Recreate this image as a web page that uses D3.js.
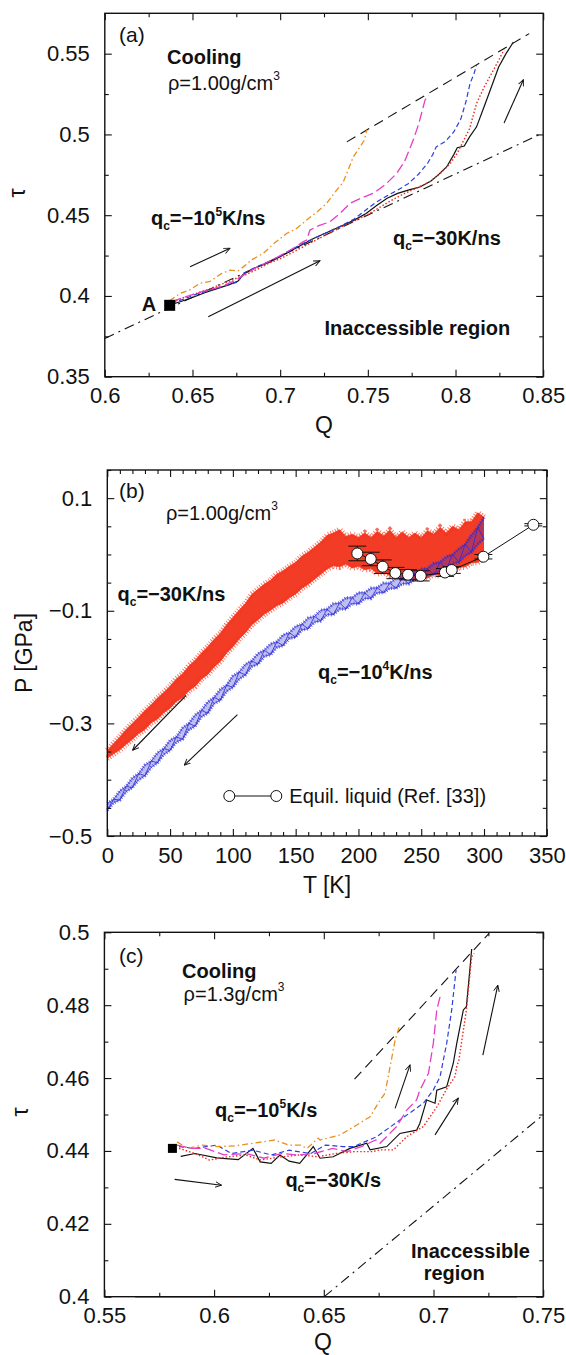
<!DOCTYPE html>
<html>
<head>
<meta charset="utf-8">
<script src="https://cdn.jsdelivr.net/npm/d3@7"></script>
<style>
  body { margin: 0; background: #fff; }
  svg text { font-family: "Liberation Sans", Arial, Helvetica, sans-serif; fill: #111; }
</style>
</head>
<body>
<script>
// ---------- panel (a): tau vs Q, rho = 1.00 g/cm3 ----------
var aXTicks = [0.6, 0.65, 0.7, 0.75, 0.8, 0.85];
var aXMinor = [0.625, 0.675, 0.725, 0.775, 0.825];
var aYTicks = [0.35, 0.4, 0.45, 0.5, 0.55];
var aYMinor = [0.375, 0.425, 0.475, 0.525];

var aBlack = [[0.637,0.3945],[0.643,0.3964],[0.650,0.399],[0.657,0.402],[0.664,0.4045],[0.671,0.407],[0.676,0.4092],
  [0.679,0.4135],[0.686,0.4175],[0.693,0.4205],[0.700,0.4243],[0.707,0.4285],[0.713,0.432],[0.719,0.4356],[0.726,0.439],
  [0.734,0.4428],[0.742,0.4468],[0.749,0.4511],[0.755,0.456],[0.761,0.4605],[0.767,0.4635],[0.773,0.4655],[0.780,0.4676],
  [0.786,0.4712],[0.790,0.4748],[0.795,0.480],[0.799,0.4875],[0.801,0.4918],[0.805,0.4928],[0.808,0.4985],[0.812,0.5047],
  [0.8164,0.5175],[0.8205,0.5295],[0.8246,0.5418],[0.8288,0.5500],[0.833,0.5572]];
var aRed = [[0.637,0.3955],[0.645,0.399],[0.652,0.4015],[0.660,0.4045],[0.667,0.4075],[0.674,0.4105],[0.680,0.413],
  [0.687,0.4165],[0.694,0.4205],[0.701,0.4235],[0.708,0.4275],[0.715,0.4315],[0.722,0.4355],[0.729,0.4395],[0.736,0.4432],
  [0.743,0.4468],[0.750,0.4505],[0.757,0.455],[0.764,0.4595],[0.771,0.4635],[0.778,0.4668],[0.785,0.4705],[0.791,0.4755],
  [0.797,0.482],[0.801,0.4885],[0.805,0.497],[0.808,0.5035],[0.812,0.5192],[0.8164,0.5295],[0.8205,0.5376],[0.8246,0.5459],
  [0.8277,0.5525]];
var aBlue = [[0.638,0.3955],[0.645,0.398],[0.652,0.401],[0.660,0.4035],[0.668,0.406],[0.676,0.4088],[0.679,0.414],
  [0.686,0.4178],[0.693,0.421],[0.700,0.4248],[0.707,0.429],[0.713,0.4325],[0.720,0.436],[0.727,0.4395],[0.735,0.4435],
  [0.742,0.4475],[0.748,0.4525],[0.754,0.4575],[0.761,0.462],[0.767,0.4655],[0.773,0.4695],[0.779,0.4755],[0.784,0.482],
  [0.787,0.4875],[0.789,0.4923],[0.794,0.4955],[0.799,0.5015],[0.803,0.5095],[0.806,0.5205],[0.8083,0.5316],[0.8105,0.5375],
  [0.812,0.5429]];
var aMagenta = [[0.638,0.3965],[0.645,0.399],[0.652,0.4015],[0.660,0.404],[0.668,0.4065],[0.675,0.410],[0.680,0.4135],
  [0.687,0.418],[0.694,0.4215],[0.701,0.4255],[0.708,0.4298],[0.713,0.4335],[0.7151,0.4346],[0.717,0.4408],[0.722,0.4435],
  [0.7284,0.4459],[0.734,0.451],[0.7398,0.4573],[0.746,0.4605],[0.7531,0.4635],[0.760,0.469],[0.7665,0.4759],[0.771,0.4835],
  [0.7759,0.4965],[0.779,0.5065],[0.7826,0.5212],[0.7845,0.5243]];
var aOrange = [[0.637,0.397],[0.6429,0.4016],[0.648,0.4035],[0.6543,0.4078],[0.660,0.409],[0.666,0.4135],[0.6714,0.416],
  [0.676,0.4155],[0.679,0.418],[0.684,0.4225],[0.6904,0.4264],[0.697,0.433],[0.7037,0.4387],[0.709,0.4415],[0.7151,0.447],
  [0.721,0.452],[0.7265,0.4573],[0.7322,0.4655],[0.736,0.4705],[0.7417,0.4861],[0.7455,0.4923],[0.748,0.4965],[0.7494,0.5027]];
var aUpper = [[0.738,0.4954],[0.842,0.5624]];
var aLower = [[0.6,0.3737],[0.85,0.501]];
var aPointA = [0.637, 0.3942];
var aArrows = [[[0.6486,0.418],[0.6714,0.4295]], [[0.659,0.3871],[0.7227,0.4218]], [[0.8277,0.5071],[0.8387,0.5339]]];

// ---------- panel (b): P vs T ----------
var bXTicks = [0, 50, 100, 150, 200, 250, 300, 350];
var bXMinor = [10,20,30,40,60,70,80,90,110,120,130,140,160,170,180,190,210,220,230,240,260,270,280,290,310,320,330,340];
var bYTicks = [0.1, -0.1, -0.3, -0.5];
var bYMinor = [0.15, 0.05, 0, -0.05, -0.15, -0.2, -0.25, -0.35, -0.4, -0.45];

var bT = [0,5,10,15,20,25,30,35,40,45,50,55,60,65,70,75,80,85,90,95,100,105,110,115,120,125,130,135,140,145,
  150,155,160,165,170,175,180,185,190,195,200,205,210,215,220,225,230,235,240,245,250,255,260,265,270,275,280,285,290,295,300];
// q = -30 K/ns runs (red band): lower / upper envelope
var bRedLo = [-0.362,-0.354,-0.347,-0.337,-0.328,-0.318,-0.311,-0.299,-0.292,-0.281,
  -0.273,-0.261,-0.254,-0.242,-0.234,-0.221,-0.213,-0.200,-0.190,-0.175,
  -0.164,-0.150,-0.139,-0.125,-0.116,-0.106,-0.099,-0.091,-0.086,-0.077,
  -0.070,-0.060,-0.053,-0.044,-0.035,-0.026,-0.020,-0.022,-0.017,-0.024,
  -0.021,-0.027,-0.025,-0.034,-0.031,-0.038,-0.035,-0.044,-0.039,-0.045,
  -0.040,-0.042,-0.035,-0.038,-0.031,-0.030,-0.023,-0.022,-0.015,-0.014,-0.007];
var bRedHi = [-0.348,-0.336,-0.324,-0.311,-0.300,-0.289,-0.277,-0.267,-0.255,-0.245,
  -0.234,-0.221,-0.212,-0.198,-0.188,-0.175,-0.164,-0.151,-0.140,-0.125,
  -0.112,-0.099,-0.087,-0.071,-0.062,-0.053,-0.046,-0.035,-0.029,-0.021,
  -0.014,-0.003,0.004,0.013,0.022,0.034,0.038,0.044,0.032,0.036,
  0.030,0.038,0.030,0.041,0.033,0.043,0.030,0.040,0.030,0.038,
  0.030,0.042,0.036,0.048,0.038,0.050,0.044,0.058,0.058,0.074,0.066];
// q = -1e4 K/ns run (blue)
var bBlueLo = [-0.454,-0.441,-0.436,-0.421,-0.414,-0.400,-0.393,-0.378,-0.370,-0.355,
  -0.348,-0.333,-0.328,-0.311,-0.305,-0.288,-0.282,-0.265,-0.259,-0.243,
  -0.236,-0.221,-0.214,-0.199,-0.195,-0.181,-0.178,-0.165,-0.162,-0.149,
  -0.147,-0.134,-0.132,-0.120,-0.118,-0.107,-0.107,-0.097,-0.097,-0.087,
  -0.088,-0.078,-0.078,-0.068,-0.068,-0.060,-0.060,-0.052,-0.052,-0.044,
  -0.044,-0.036,-0.036,-0.028,-0.026,-0.016,-0.014,-0.002,0.004,0.018,0.028];
var bBlueHi = [-0.442,-0.435,-0.420,-0.412,-0.397,-0.389,-0.374,-0.367,-0.352,-0.345,
  -0.330,-0.324,-0.308,-0.300,-0.285,-0.277,-0.262,-0.254,-0.240,-0.232,
  -0.216,-0.209,-0.195,-0.189,-0.176,-0.170,-0.159,-0.155,-0.143,-0.139,
  -0.128,-0.124,-0.113,-0.110,-0.099,-0.097,-0.088,-0.086,-0.077,-0.077,
  -0.068,-0.068,-0.060,-0.059,-0.051,-0.051,-0.042,-0.042,-0.034,-0.034,
  -0.026,-0.025,-0.016,-0.014,-0.004,0.000,0.010,0.018,0.034,0.048,0.066];
// equilibrium liquid (Ref. [33])
var bEqT = [199.1, 209.8, 219.3, 229.4, 239.5, 249.6, 268.9, 274.3, 299.5, 339.3];
var bEqP = [0.0018, -0.008, -0.0217, -0.033, -0.036, -0.038, -0.032, -0.0276, -0.004, 0.0527];
var bEqErr = [0.013, 0.012, 0.012, 0.010, 0.009, 0.009, 0.007, 0.006, 0.004, 0.002];
var bArrows = [[[62.75,-0.2503],[20.15,-0.3477]], [[103.6,-0.2845],[61.3,-0.3743]]];

// ---------- panel (c): tau vs Q, rho = 1.3 g/cm3 ----------
var cXTicks = [0.55, 0.6, 0.65, 0.7, 0.75];
var cXMinor = [0.575, 0.625, 0.675, 0.725];
var cYTicks = [0.4, 0.42, 0.44, 0.46, 0.48, 0.5];
var cYMinor = [0.41, 0.43, 0.45, 0.47, 0.49];

var cOrange = [[0.5831,0.4425],[0.588,0.4407],[0.5946,0.4416],[0.6012,0.4412],[0.6095,0.4414],[0.6177,0.4421],[0.6276,0.443],
  [0.6342,0.4416],[0.6392,0.4416],[0.6424,0.4407],[0.6474,0.4435],[0.6483,0.443],[0.6574,0.4444],[0.665,0.4471],[0.6711,0.4494],
  [0.6757,0.454],[0.6779,0.4558],[0.6802,0.4631],[0.6825,0.4704],[0.6847,0.4746]];
var cMagenta = [[0.5831,0.4416],[0.5897,0.4407],[0.5963,0.4407],[0.6045,0.4389],[0.6144,0.4393],[0.6227,0.438],[0.6309,0.4393],
  [0.6375,0.4389],[0.6457,0.4393],[0.654,0.4407],[0.6605,0.4398],[0.6671,0.4412],[0.6737,0.443],[0.6756,0.4421],[0.6832,0.4467],
  [0.6878,0.4512],[0.6923,0.454],[0.6938,0.4567],[0.6977,0.4613],[0.6999,0.4695],[0.7015,0.4787],[0.703,0.4823]];
var cBlue = [[0.584,0.4412],[0.5913,0.4407],[0.6012,0.4416],[0.6078,0.4393],[0.6177,0.4402],[0.626,0.4389],[0.6342,0.4402],
  [0.6441,0.4393],[0.6507,0.4416],[0.6589,0.4412],[0.6635,0.4412],[0.6671,0.4421],[0.6741,0.4439],[0.6847,0.4485],[0.6954,0.4531],
  [0.6999,0.4567],[0.703,0.4604],[0.706,0.4695],[0.7083,0.4787],[0.7103,0.4897]];
var cRed = [[0.584,0.4407],[0.5913,0.4393],[0.5979,0.4375],[0.6062,0.4384],[0.6144,0.4389],[0.621,0.4375],[0.6309,0.4384],
  [0.6391,0.4389],[0.6474,0.4384],[0.6556,0.4393],[0.6638,0.4398],[0.6721,0.4398],[0.6756,0.4403],[0.6817,0.4403],[0.6878,0.4439],
  [0.6954,0.4467],[0.7015,0.4521],[0.706,0.457],[0.7098,0.4604],[0.7106,0.4631],[0.7116,0.465],[0.715,0.4787],[0.7174,0.4933],
  [0.7185,0.4942]];
var cBlack = [[0.5848,0.4385],[0.5913,0.4393],[0.6012,0.4381],[0.611,0.4376],[0.6177,0.4407],[0.621,0.437],[0.626,0.4366],
  [0.63,0.4389],[0.6342,0.4372],[0.639,0.4366],[0.6422,0.4389],[0.6452,0.4412],[0.6483,0.438],[0.6543,0.4384],[0.6619,0.4407],
  [0.6696,0.4421],[0.6711,0.4403],[0.6787,0.4412],[0.6847,0.4448],[0.6923,0.4457],[0.6938,0.4476],[0.6969,0.454],[0.7007,0.4531],
  [0.7015,0.4567],[0.706,0.4576],[0.709,0.464],[0.7106,0.4695],[0.7136,0.4787],[0.715,0.4796],[0.7167,0.4906],[0.7174,0.4954]];
var cUpper = [[0.664,0.4597],[0.7253,0.4997]];
var cLower = [[0.6502,0.4],[0.75,0.4499]];
var cBase = [[0.564,0.4],[0.738,0.4]];
var cPoint = [0.581, 0.4407];
var cArrows = [[[0.582,0.4322],[0.6034,0.4306]], [[0.6825,0.4517],[0.6893,0.4636]],
  [[0.7007,0.4444],[0.7113,0.4545]], [[0.7225,0.4663],[0.7293,0.4855]]];

var width = 566, height = 1355;
var FONT = '"Liberation Sans", Arial, Helvetica, sans-serif';

var svg = d3.select("body").append("svg")
  .attr("width", width)
  .attr("height", height);

svg.append("defs").append("marker")
  .attr("id", "arrow")
  .attr("viewBox", "0 0 10 10")
  .attr("refX", 9).attr("refY", 5)
  .attr("markerWidth", 7).attr("markerHeight", 7)
  .attr("markerUnits", "userSpaceOnUse")
  .attr("orient", "auto")
  .append("path")
  .attr("d", "M0,1 L9,5 L0,9")
  .attr("fill", "none").attr("stroke", "#111").attr("stroke-width", 1.3);

// frame + mirrored ticks, gnuplot style (ticks point inward)
function makePanel(box, xDom, yDom, xt, xm, yt, ym, fmtY) {
  var x = d3.scaleLinear().domain(xDom).range([box.left, box.right]);
  var y = d3.scaleLinear().domain(yDom).range([box.bottom, box.top]);
  var g = svg.append("g");
  var plot = g.append("g");

  function ax(axis, tx, ty, vals, size, fmt, pad) {
    var a = g.append("g").attr("transform", "translate(" + tx + "," + ty + ")")
      .call(axis.tickValues(vals).tickSize(-size).tickSizeOuter(0).tickPadding(pad || 3).tickFormat(fmt || ""));
    a.select(".domain").remove();
    a.selectAll("line").attr("stroke", "#111").attr("stroke-width", 1.1);
    a.attr("font-family", FONT).attr("font-size", 22);
    a.selectAll("text").attr("fill", "#111");
    return a;
  }
  ax(d3.axisBottom(x), 0, box.bottom, xt, 7, function(d) { return String(d); }, 11);
  ax(d3.axisBottom(x), 0, box.bottom, xm, 4);
  ax(d3.axisTop(x), 0, box.top, xt, 7);
  ax(d3.axisTop(x), 0, box.top, xm, 4);
  ax(d3.axisLeft(y), box.left, 0, yt, 7, fmtY || function(d) { return String(d); }, 15);
  ax(d3.axisLeft(y), box.left, 0, ym, 4);
  ax(d3.axisRight(y), box.right, 0, yt, 7);
  ax(d3.axisRight(y), box.right, 0, ym, 4);

  g.append("rect")
    .attr("x", box.left).attr("y", box.top)
    .attr("width", box.right - box.left).attr("height", box.bottom - box.top)
    .attr("fill", "none").attr("stroke", "#111").attr("stroke-width", 1.4);

  return {g: g, plot: plot, x: x, y: y};
}

function curve(p, data, color, dash, w) {
  var line = d3.line().x(function(d) { return p.x(d[0]); }).y(function(d) { return p.y(d[1]); });
  p.plot.append("path")
    .attr("d", line(data))
    .attr("fill", "none")
    .attr("stroke", color)
    .attr("stroke-width", w || 1.2)
    .attr("stroke-dasharray", dash || null);
}

function arrows(p, list) {
  list.forEach(function(a) {
    p.plot.append("line")
      .attr("x1", p.x(a[0][0])).attr("y1", p.y(a[0][1]))
      .attr("x2", p.x(a[1][0])).attr("y2", p.y(a[1][1]))
      .attr("stroke", "#111").attr("stroke-width", 1.1)
      .attr("marker-end", "url(#arrow)");
  });
}

function label(p, xv, yv, txt, bold, size) {
  return p.g.append("text")
    .attr("x", p.x(xv)).attr("y", p.y(yv))
    .attr("font-size", size || 20)
    .attr("font-weight", bold ? "bold" : "normal")
    .text(txt);
}

function rhoLabel(p, xv, yv, txt) {
  var t = label(p, xv, yv, txt, false, 20);
  t.append("tspan").attr("font-size", 12).attr("dy", -10).text("3");
}

function rateLabel(p, xv, yv, mant, sup, unit) {
  var t = label(p, xv, yv, "q", true, 20);
  t.append("tspan").attr("font-size", 12).attr("dy", 5).text("c");
  t.append("tspan").attr("dy", -5).text("=\u2212" + mant);
  if (sup) {
    t.append("tspan").attr("font-size", 12).attr("dy", -9).text(sup);
    t.append("tspan").attr("dy", 9).text(unit);
  } else {
    t.append("tspan").text(unit);
  }
}

function axisTitle(x, y, txt, rot) {
  svg.append("text")
    .attr("transform", "translate(" + x + "," + y + ")" + (rot ? " rotate(-90)" : ""))
    .attr("text-anchor", "middle")
    .attr("dy", rot ? "0.35em" : 0)
    .attr("font-size", 23)
    .text(txt);
}

var C_ORANGE = "#e8901e", C_MAGENTA = "#e63cc8", C_BLUE = "#2b3ee0", C_RED = "#ea2a1c";
var DASH_ORANGE = "6,3,1.5,3", DASH_MAGENTA = "10,4", DASH_BLUE = "5,3", DASH_RED = "1.5,2";

// ================= (a) =================
var pa = makePanel({left: 104.8, right: 543.2, top: 13.3, bottom: 376.7},
  [0.6, 0.85], [0.35, 0.575], aXTicks, aXMinor, aYTicks, aYMinor);

curve(pa, aLower, "#111", "10,5,2,5", 1.1);
curve(pa, aUpper, "#111", "10,6", 1.1);
curve(pa, aBlack, "#111", null, 1.2);
curve(pa, aRed, C_RED, DASH_RED, 1.4);
curve(pa, aBlue, C_BLUE, DASH_BLUE, 1.2);
curve(pa, aMagenta, C_MAGENTA, DASH_MAGENTA, 1.3);
curve(pa, aOrange, C_ORANGE, DASH_ORANGE, 1.3);
arrows(pa, aArrows);

pa.plot.append("rect")
  .attr("x", pa.x(aPointA[0]) - 5.5).attr("y", pa.y(aPointA[1]) - 5.5)
  .attr("width", 11).attr("height", 11).attr("fill", "#000");

label(pa, 0.6081, 0.557, "(a)", false, 21);
label(pa, 0.6355, 0.5436, "Cooling", true, 20);
rhoLabel(pa, 0.636, 0.5275, "\u03c1=1.00g/cm");
rateLabel(pa, 0.6263, 0.4439, "10", "5", "K/ns");
rateLabel(pa, 0.7643, 0.4315, "30", null, "K/ns");
label(pa, 0.7253, 0.3758, "Inaccessible region", true, 20);
label(pa, 0.621, 0.3907, "A", true, 20);

axisTitle(324, 433, "Q");
axisTitle(17, 193, "\u03c4", true);

// ================= (b) =================
var pb = makePanel({left: 107.3, right: 546.8, top: 470, bottom: 836},
  [0, 350], [-0.5, 0.15], bXTicks, bXMinor, bYTicks, bYMinor,
  function(d) { return String(d).replace("-", "\u2212"); });

var redRows = bT.map(function(t, i) { return {t: t, lo: bRedLo[i], hi: bRedHi[i]}; });
var blueRows = bT.map(function(t, i) { return {t: t, lo: bBlueLo[i], hi: bBlueHi[i]}; });

// noisy band of many overlapping runs: filled envelope, bristly edges, optional zigzag trace
function band(p, rows, color, fillOp, bristle, zigzag) {
  var area = d3.area().x(function(d) { return p.x(d.t); })
    .y0(function(d) { return p.y(d.lo); }).y1(function(d) { return p.y(d.hi); });
  p.plot.append("path").attr("d", area(rows)).attr("fill", color).attr("fill-opacity", fillOp);
  ["lo", "hi"].forEach(function(k) {
    var ln = d3.line().x(function(d) { return p.x(d.t); }).y(function(d) { return p.y(d[k]); });
    p.plot.append("path").attr("d", ln(rows)).attr("fill", "none")
      .attr("stroke", color).attr("stroke-width", bristle)
      .attr("stroke-dasharray", "0.9,1.8").attr("stroke-opacity", 0.7);
    p.plot.append("path").attr("d", ln(rows)).attr("fill", "none")
      .attr("stroke", color).attr("stroke-width", 0.7);
  });
  if (zigzag) {
    var zig = d3.line().x(function(d) { return p.x(d.t); })
      .y(function(d, i) { return p.y(i % 2 ? d.hi : d.lo); });
    p.plot.append("path").attr("d", zig(rows)).attr("fill", "none")
      .attr("stroke", color).attr("stroke-width", 0.8);
  }
}
band(pb, redRows, "#f2321a", 0.95, 6, false);
band(pb, blueRows, "#2a2ad4", 0.3, 3.5, true);

var eq = bEqT.map(function(t, i) { return {t: t, p: bEqP[i], e: bEqErr[i]}; });
pb.plot.append("path")
  .attr("d", d3.line().x(function(d) { return pb.x(d.t); }).y(function(d) { return pb.y(d.p); })(eq))
  .attr("fill", "none").attr("stroke", "#111").attr("stroke-width", 1);
var eb = pb.plot.selectAll(".err").data(eq).enter().append("g");
eb.append("line")
  .attr("x1", function(d) { return pb.x(d.t); }).attr("x2", function(d) { return pb.x(d.t); })
  .attr("y1", function(d) { return pb.y(d.p - d.e); }).attr("y2", function(d) { return pb.y(d.p + d.e); })
  .attr("stroke", "#111");
[-1, 1].forEach(function(s) {
  eb.append("line")
    .attr("x1", function(d) { return pb.x(d.t) - 9; }).attr("x2", function(d) { return pb.x(d.t) + 9; })
    .attr("y1", function(d) { return pb.y(d.p + s * d.e); }).attr("y2", function(d) { return pb.y(d.p + s * d.e); })
    .attr("stroke", "#111");
});
pb.plot.selectAll(".eq").data(eq).enter().append("circle")
  .attr("cx", function(d) { return pb.x(d.t); })
  .attr("cy", function(d) { return pb.y(d.p); })
  .attr("r", 5.5).attr("fill", "#fff").attr("stroke", "#111").attr("stroke-width", 1);
arrows(pb, bArrows);

// legend
var lg = pb.g.append("g").attr("transform", "translate(" + (107.3 + 122) + "," + (470 + 326) + ")");
lg.append("line").attr("x1", 0).attr("x2", 47).attr("stroke", "#111");
lg.selectAll("circle").data([0, 47]).enter().append("circle")
  .attr("cx", function(d) { return d; }).attr("r", 5.5)
  .attr("fill", "#fff").attr("stroke", "#111");
lg.append("text").attr("x", 60).attr("dy", "0.35em").attr("font-size", 20)
  .text("Equil. liquid (Ref. [33])");

label(pb, 9.3, 0.1005, "(b)", false, 21);
rhoLabel(pb, 46.7, 0.0616, "\u03c1=1.00g/cm");
rateLabel(pb, 8.1, -0.082, "30", null, "K/ns");
rateLabel(pb, 167.8, -0.222, "10", "4", "K/ns");

axisTitle(327, 893, "T [K]");
axisTitle(24, 653, "P [GPa]", true);

// ================= (c) =================
var pc = makePanel({left: 104.4, right: 543.2, top: 932.3, bottom: 1296.7},
  [0.55, 0.75], [0.4, 0.5], cXTicks, cXMinor, cYTicks, cYMinor);

curve(pc, cBase, "#2f5f2f", null, 1.6);
curve(pc, cLower, "#111", "10,5,2,5", 1.1);
curve(pc, cUpper, "#111", "10,6", 1.1);
curve(pc, cBlack, "#111", null, 1.2);
curve(pc, cRed, C_RED, DASH_RED, 1.4);
curve(pc, cBlue, C_BLUE, DASH_BLUE, 1.2);
curve(pc, cMagenta, C_MAGENTA, DASH_MAGENTA, 1.3);
curve(pc, cOrange, C_ORANGE, DASH_ORANGE, 1.3);
arrows(pc, cArrows);

pc.plot.append("rect")
  .attr("x", pc.x(cPoint[0]) - 4.5).attr("y", pc.y(cPoint[1]) - 4.5)
  .attr("width", 9).attr("height", 9).attr("fill", "#000");

label(pc, 0.5567, 0.4915, "(c)", false, 21);
label(pc, 0.5854, 0.4875, "Cooling", true, 20);
rhoLabel(pc, 0.5861, 0.4811, "\u03c1=1.3g/cm");
rateLabel(pc, 0.6004, 0.4493, "10", "5", "K/s");
rateLabel(pc, 0.6325, 0.4301, "30", null, "K/s");
label(pc, 0.6897, 0.4106, "Inaccessible", true, 20);
label(pc, 0.6955, 0.4046, "region", true, 20);

axisTitle(323, 1350, "Q");
axisTitle(20, 1112, "\u03c4", true);
</script>
</body>
</html>
